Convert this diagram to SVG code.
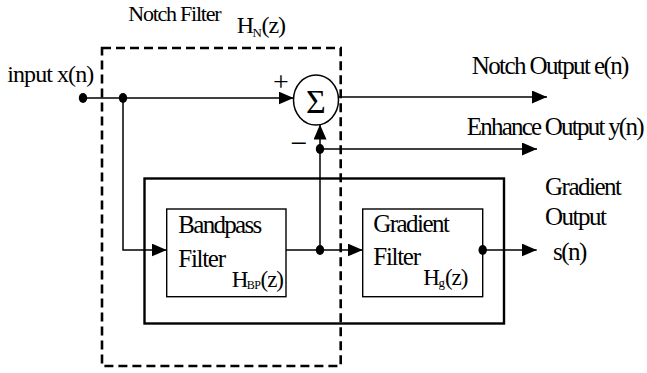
<svg xmlns="http://www.w3.org/2000/svg" width="647" height="373" viewBox="0 0 647 373">
<style>
text{font-family:"Liberation Serif","Times New Roman",serif;fill:#000;font-size:25px}
.ln{fill:none;stroke:#000;stroke-width:1.5}
.dot{fill:#000}
.box{fill:#fff;stroke:#000;stroke-width:1.4}
</style>
<defs>
<marker id="ah" markerUnits="userSpaceOnUse" markerWidth="16" markerHeight="13" refX="15" refY="6.5" orient="auto">
<path d="M0,0 L15,6.5 L0,13 z" fill="#000"/>
</marker>
</defs>
<rect width="647" height="373" fill="#fff"/>
<g id="gradient-stage">
<rect x="144.5" y="178.5" width="359.5" height="145" fill="none" stroke="#000" stroke-width="2.4"/>
</g>
<g id="bandpass">
<rect class="box" x="166.7" y="209" width="119.3" height="87.7"/>
<text x="178.3" y="233.3" letter-spacing="-1.7">Bandpass</text>
<text x="178.3" y="266.5" letter-spacing="-1.3">Filter</text>
<text x="231.7" y="286.7" style="font-size:23px" letter-spacing="-1.5">H<tspan dy="2" style="font-size:12px" letter-spacing="-0.5">BP</tspan><tspan dy="-2" letter-spacing="-1">(z)</tspan></text>
</g>
<g id="gradient-filter">
<rect class="box" x="362.7" y="209" width="120" height="87.7"/>
<text x="373.3" y="231.7" letter-spacing="-1.56">Gradient</text>
<text x="373.3" y="265" letter-spacing="-1.3">Filter</text>
<text x="423.3" y="285" style="font-size:23px" letter-spacing="-1.5">H<tspan dy="2" style="font-size:13px" letter-spacing="0">g</tspan><tspan dy="-2" letter-spacing="-1">(z)</tspan></text>
</g>
<g id="notch-filter">
<rect x="102" y="48" width="238.7" height="318" fill="none" stroke="#000" stroke-width="2.6" stroke-dasharray="9 5"/>
<text x="128.3" y="20.7" style="font-size:22px" letter-spacing="-1.24">Notch Filter</text>
<text x="236.7" y="32.5" style="font-size:24px" letter-spacing="-1.5">H<tspan dy="4" style="font-size:13px" letter-spacing="-0.5">N</tspan><tspan dy="-4" letter-spacing="-1">(z)</tspan></text>
</g>
<g id="sum">
<ellipse cx="316" cy="100" rx="22.5" ry="25" fill="#fff" stroke="#000" stroke-width="1.5"/>
<text x="316" y="113" text-anchor="middle" style="font-size:34px">Σ</text>
<text x="281" y="91" text-anchor="middle" style="font-size:28px">+</text>
<text x="299" y="153" text-anchor="middle" style="font-size:30px">−</text>
</g>
<g id="input">
<text x="7.3" y="81.7" style="font-size:24px" letter-spacing="-0.93">input x(n)</text>
</g>
<g id="notch-output">
<text x="471.7" y="74" letter-spacing="-1.6">Notch Output e(n)</text>
</g>
<g id="enhance-output">
<text x="466.7" y="135" letter-spacing="-1.77">Enhance Output y(n)</text>
</g>
<g id="gradient-output">
<text x="545" y="195" letter-spacing="-1.5">Gradient</text>
<text x="545" y="225" letter-spacing="-1.5">Output</text>
<text x="553" y="260" letter-spacing="-1.5">s(n)</text>
</g>
<g id="connectors">
<path class="ln" d="M83,98 L293.6,98" marker-end="url(#ah)"/>
<path class="ln" d="M123,98 L123,250 L166.7,250" marker-end="url(#ah)"/>
<path class="ln" d="M286,250 L362.7,250" marker-end="url(#ah)"/>
<path class="ln" d="M320,250 L320,124.6" marker-end="url(#ah)"/>
<path class="ln" d="M320,149 L537,149" marker-end="url(#ah)"/>
<path class="ln" d="M338.5,97 L547,97" marker-end="url(#ah)"/>
<path class="ln" d="M482.7,250 L536.7,250" marker-end="url(#ah)"/>
<ellipse class="dot" cx="83" cy="98" rx="4.2" ry="5"/>
<ellipse class="dot" cx="123" cy="98" rx="4.2" ry="5"/>
<ellipse class="dot" cx="320" cy="149" rx="4.2" ry="5"/>
<ellipse class="dot" cx="320" cy="250" rx="4.2" ry="5"/>
<ellipse class="dot" cx="482.7" cy="250" rx="4.2" ry="5"/>
</g>
</svg>
